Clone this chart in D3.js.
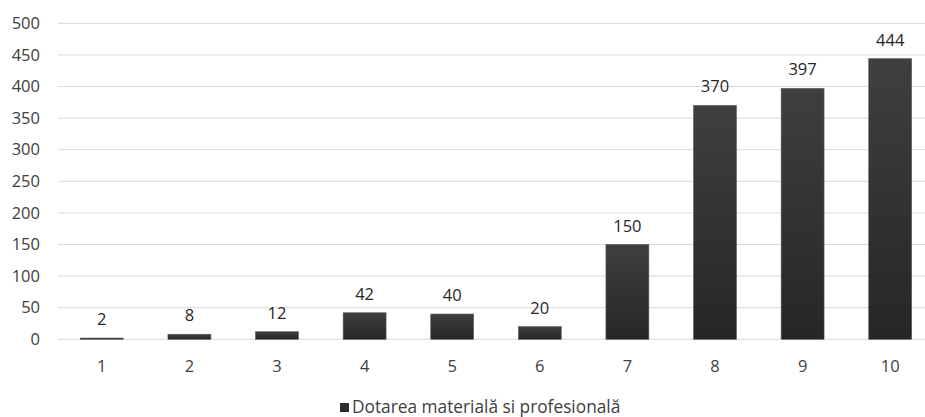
<!DOCTYPE html>
<html><head><meta charset="utf-8">
<script src="https://cdn.jsdelivr.net/npm/d3@7"></script>
<style>body{margin:0;background:#fff}svg{display:block}text{font-family:"Open Sans","Noto Sans",sans-serif}</style>
</head><body><svg id="c" width="925" height="417"></svg>
<script>
const categories = ["1","2","3","4","5","6","7","8","9","10"];
const values = [2,8,12,42,40,20,150,370,397,444];
const yTicks = [0,50,100,150,200,250,300,350,400,450,500];
const seriesName = "Dotarea materială si profesională";

const svg = d3.select("#c");
const x = d3.scaleBand().domain(categories).range([58, 934]).paddingInner(0.51).paddingOuter(0.255);
const y = d3.scaleLinear().domain([0, 500]).range([339.3, 23.3]);

const defs = svg.append("defs");
const g = defs.append("linearGradient").attr("id","bg").attr("x1",0).attr("x2",0).attr("y1",0).attr("y2",1);
g.append("stop").attr("offset","0%").attr("stop-color","#3f3f3f");
g.append("stop").attr("offset","100%").attr("stop-color","#262626");

svg.append("g").selectAll("line").data(yTicks).join("line")
  .attr("x1",58).attr("x2",925).attr("y1",d=>y(d)).attr("y2",d=>y(d))
  .attr("stroke","#d9d9d9").attr("stroke-width",1);

const yAxis = d3.axisLeft(y).tickValues(yTicks).tickSize(0).tickPadding(0);
svg.append("g").attr("transform","translate(40,0)").call(yAxis)
  .call(s=>s.select(".domain").remove())
  .selectAll("text").attr("font-size",16.5).attr("fill","#404040").attr("font-family","'Open Sans',sans-serif");

const xAxis = d3.axisBottom(x).tickSize(0).tickPadding(0);
svg.append("g").attr("transform","translate(0,360)").call(xAxis)
  .call(s=>s.select(".domain").remove())
  .selectAll("text").attr("font-size",16.5).attr("fill","#404040").attr("font-family","'Open Sans',sans-serif");

svg.append("g").selectAll("rect").data(values).join("rect")
  .attr("x",(d,i)=>x(categories[i])).attr("width",x.bandwidth())
  .attr("y",d=>y(d)).attr("height",d=>y(0)-y(d))
  .attr("fill","url(#bg)").attr("stroke","#5a5a5a").attr("stroke-width",0.6);

svg.append("g").selectAll("text").data(values).join("text")
  .attr("x",(d,i)=>x(categories[i])+x.bandwidth()/2).attr("y",d=>y(d)-13)
  .attr("text-anchor","middle").attr("font-size",16.5).attr("fill","#262626").text(d=>d);

const lg = svg.append("g");
lg.append("rect").attr("x",340).attr("y",403).attr("width",9).attr("height",9).attr("fill","#2b2b2b");
lg.append("text").attr("x",352).attr("y",413).attr("font-size",17.3).attr("fill","#404040").text(seriesName);
</script></body></html>
